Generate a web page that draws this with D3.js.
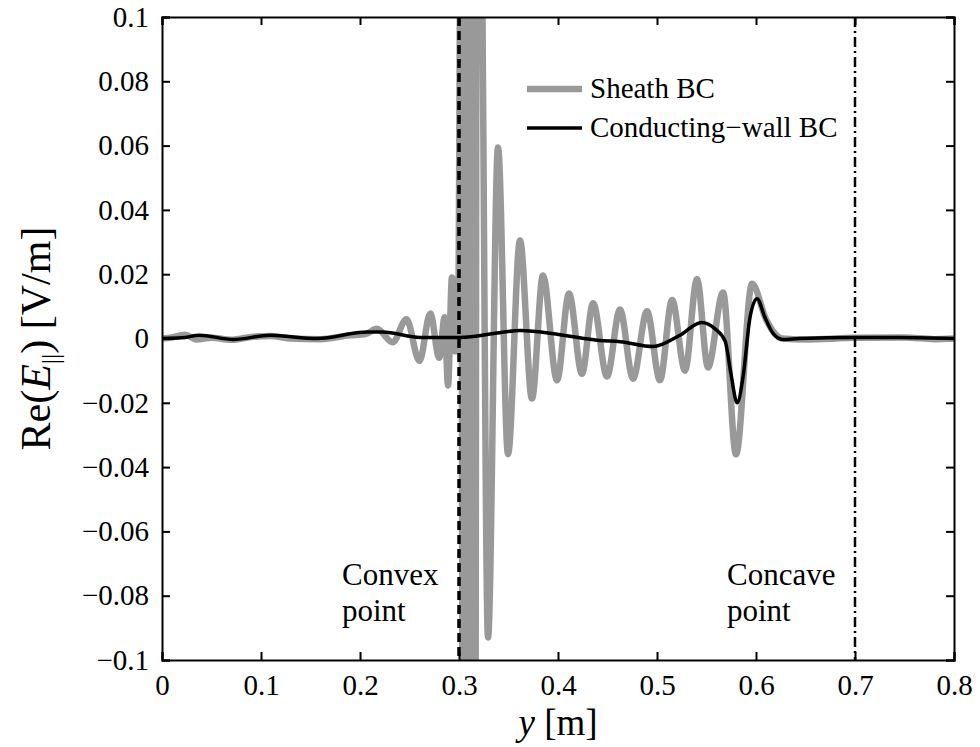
<!DOCTYPE html>
<html>
<head>
<meta charset="utf-8">
<script src="https://cdn.jsdelivr.net/npm/d3@7"></script>
<style>
  body { margin: 0; background: #fff; }
  svg text { font-family: "Liberation Serif", "Times New Roman", Times, serif; fill: #000; }
</style>
</head>
<body>
<div id="chart"></div>
<script>
// position y [m] and Re(E_par) [V/m]
const sheath_y = [0, 0.01, 0.023, 0.035, 0.05, 0.07, 0.09, 0.11, 0.13, 0.16, 0.19, 0.205,
  0.217, 0.233, 0.247, 0.26, 0.271, 0.280, 0.2855, 0.2889, 0.2929, 0.2960, 0.2990,
  0.3020, 0.3040, 0.3060, 0.3080, 0.3101, 0.3121, 0.3141, 0.3162, 0.3182, 0.3222,
  0.3293, 0.3394, 0.3495, 0.3616, 0.3737, 0.3848, 0.3990, 0.4111, 0.4242, 0.4354,
  0.4495, 0.4626, 0.4758, 0.4899, 0.5030, 0.5152, 0.5283, 0.5404, 0.5515, 0.5667,
  0.5798, 0.5960, 0.6101, 0.6192, 0.6263, 0.65, 0.7, 0.75, 0.78, 0.8];
const sheath_E = [0, 0.0003, 0.0012, -0.0003, 0.0002, -0.0004, 0.0005, 0.0008, 0.0, -0.0002, 0.001, 0.0013,
  0.003, -0.0012, 0.006, -0.007, 0.0078, -0.006, 0.0066, -0.0146, 0.019, -0.004, 0.0,
  0.15, -0.2, 0.25, -0.25, 0.25, -0.25, 0.25, -0.2, 0.2, 0.15,
  -0.093, 0.0594, -0.036, 0.0305, -0.0187, 0.0196, -0.013, 0.014, -0.011, 0.011,
  -0.0118, 0.009, -0.0125, 0.0085, -0.013, 0.012, -0.010, 0.0185, -0.009, 0.0143,
  -0.036, 0.017, 0.006, 0.0015, 0.0, -0.0003, 0.0002, 0.0003, -0.0002, 0];

const wall_y = [0, 0.02, 0.038, 0.072, 0.109, 0.157, 0.207, 0.223, 0.261, 0.301, 0.341, 0.362,
  0.402, 0.442, 0.463, 0.496, 0.523, 0.545, 0.5586, 0.569, 0.5747, 0.581, 0.5869, 0.5939,
  0.601, 0.6091, 0.6172, 0.627, 0.644, 0.7, 0.745, 0.8];
const wall_E = [0, 0.0002, 0.001, -0.0003, 0.001, 0.0, 0.002, 0.002, 0.0003, 0.0003, 0.0018, 0.0025,
  0.0012, -0.0006, -0.001, -0.0025, 0.001, 0.005, 0.003, -0.001, -0.011, -0.020, -0.012, 0.0065,
  0.0124, 0.0065, 0.0016, -0.0003, 0, 0.0003, 0.0003, 0];

const x_ticks = [0, 0.1, 0.2, 0.3, 0.4, 0.5, 0.6, 0.7, 0.8];
const y_ticks = [-0.1, -0.08, -0.06, -0.04, -0.02, 0, 0.02, 0.04, 0.06, 0.08, 0.1];
const series_names = ["Sheath BC", "Conducting\u2212wall BC"];
const marker_y = [0.3, 0.7];
const marker_text = [["Convex", "point"], ["Concave", "point"]];

const serif = "'Liberation Serif', 'Times New Roman', Times, serif";
const width = 980, height = 747;
const margin = {top: 17, right: 26, bottom: 87, left: 162};
const pw = width - margin.left - margin.right,
      ph = height - margin.top - margin.bottom;

const svg = d3.select("#chart").append("svg")
  .attr("width", width).attr("height", height)
  .style("font-family", serif);
const g = svg.append("g").attr("transform", `translate(${margin.left},${margin.top})`);

const x = d3.scaleLinear().domain([0, 0.8]).range([0, pw]);
const y = d3.scaleLinear().domain([-0.1, 0.1]).range([ph, 0]);

g.append("clipPath").attr("id", "clip")
  .append("rect").attr("width", pw).attr("height", ph);

const fmt = d => d === 0 ? "0" : String(d).replace("-", "\u2212");

// curves
const line = d3.line().x(d => x(d[0])).y(d => y(d[1])).curve(d3.curveMonotoneX);
const plot = g.append("g").attr("clip-path", "url(#clip)");
plot.append("path")
  .datum(d3.zip(sheath_y, sheath_E))
  .attr("d", line).attr("fill", "none")
  .attr("stroke", "#999").attr("stroke-width", 6.5).attr("stroke-linejoin", "round");
plot.append("path")
  .datum(d3.zip(wall_y, wall_E))
  .attr("d", line).attr("fill", "none")
  .attr("stroke", "#000").attr("stroke-width", 3.5).attr("stroke-linejoin", "round");

// convex / concave markers
g.append("line")
  .attr("x1", x(marker_y[0])).attr("x2", x(marker_y[0]))
  .attr("y1", 0).attr("y2", ph)
  .attr("stroke", "#000").attr("stroke-width", 3.5).attr("stroke-dasharray", "9,5");
g.append("line")
  .attr("x1", x(marker_y[1])).attr("x2", x(marker_y[1]))
  .attr("y1", 0).attr("y2", ph)
  .attr("stroke", "#000").attr("stroke-width", 2.5).attr("stroke-dasharray", "10,4,2,4");

const noteX = [180, 565];
marker_text.forEach((lines, k) => {
  g.append("text").attr("y", 568).style("font-family", serif).style("font-size", "31px")
    .selectAll("tspan").data(lines).join("tspan")
    .attr("x", noteX[k]).attr("dy", (d, i) => i ? 36 : 0).text(d => d);
});

// axes, box with inward ticks
const tl = 8;
g.append("g").attr("transform", `translate(0,${ph})`)
  .call(d3.axisBottom(x).tickValues(x_ticks).tickSize(-tl).tickPadding(14).tickFormat(fmt));
g.append("g")
  .call(d3.axisTop(x).tickValues(x_ticks).tickSize(-tl).tickFormat(""));
g.append("g")
  .call(d3.axisLeft(y).tickValues(y_ticks).tickSize(-tl).tickPadding(13).tickFormat(fmt));
g.append("g").attr("transform", `translate(${pw},0)`)
  .call(d3.axisRight(y).tickValues(y_ticks).tickSize(-tl).tickFormat(""));
g.selectAll(".domain").attr("stroke", "#000").attr("stroke-width", 2);
g.selectAll(".tick line").attr("stroke", "#000").attr("stroke-width", 2);
g.selectAll(".tick text").attr("fill", "#000")
  .style("font-family", serif).style("font-size", "29px");

// axis titles
svg.append("text").attr("x", margin.left + pw / 2).attr("y", 735)
  .attr("text-anchor", "middle").style("font-family", serif).style("font-size", "37px")
  .html('<tspan font-style="italic">y</tspan> [m]');
svg.append("text")
  .attr("transform", `translate(50,${margin.top + ph / 2}) rotate(-90)`)
  .attr("text-anchor", "middle").style("font-family", serif).style("font-size", "42px")
  .html('Re(<tspan font-style="italic">E</tspan><tspan font-size="26" dy="9">||</tspan><tspan dy="-9">)</tspan> [V/m]');

// legend
const leg = svg.append("g");
const legColor = ["#999", "#000"], legWidth = [6.5, 3.5], legY = [89, 128];
series_names.forEach((name, i) => {
  leg.append("line").attr("x1", 527).attr("x2", 582).attr("y1", legY[i]).attr("y2", legY[i])
    .attr("stroke", legColor[i]).attr("stroke-width", legWidth[i]);
  leg.append("text").attr("x", 590).attr("y", legY[i] + 9)
    .style("font-family", serif).style("font-size", "29px").text(name);
});
</script>
</body>
</html>
